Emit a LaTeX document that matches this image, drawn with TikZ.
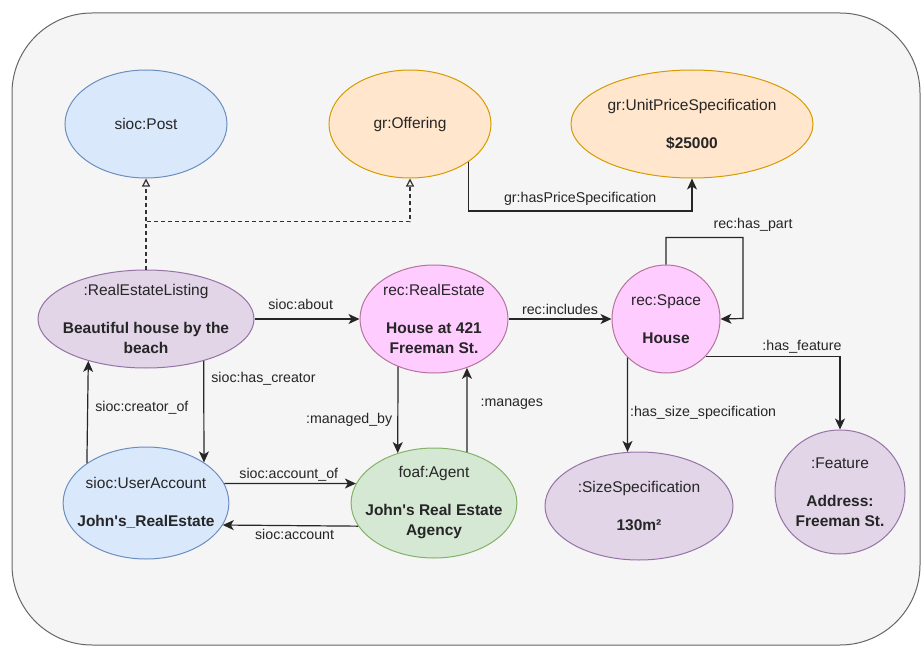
\documentclass[tikz,border=0pt]{standalone}
\usepackage{fontspec}
\setmainfont{Liberation Sans}
\usetikzlibrary{shapes.geometric,arrows.meta}

\definecolor{bgfill}{HTML}{F5F5F5}
\definecolor{bgline}{HTML}{666666}
\definecolor{bluefill}{HTML}{DAE8FC}
\definecolor{blueline}{HTML}{6C8EBF}
\definecolor{orangefill}{HTML}{FFE6CC}
\definecolor{orangeline}{HTML}{D79B00}
\definecolor{purplefill}{HTML}{E1D5E7}
\definecolor{purpleline}{HTML}{9673A6}
\definecolor{greenfill}{HTML}{D5E8D4}
\definecolor{greenline}{HTML}{82B366}
\definecolor{pinkfill}{HTML}{FFCCFF}
\definecolor{pinkline}{HTML}{B5739D}

\begin{document}
\begin{tikzpicture}
  [x=0.5pt,y=-0.5pt,
   res/.style={ellipse,draw,line width=0.5pt,inner sep=-5pt,align=center,text=black!85,font=\fontsize{7.75}{10}\selectfont},
   bluenode/.style={res,fill=bluefill,draw=blueline},
   orangenode/.style={res,fill=orangefill,draw=orangeline},
   purplenode/.style={res,fill=purplefill,draw=purpleline},
   greennode/.style={res,fill=greenfill,draw=greenline},
   pinknode/.style={res,fill=pinkfill,draw=pinkline},
   rel/.style={font=\fontsize{7.1}{8.5}\selectfont,text=black!85,inner sep=1pt},
   link/.style={draw=black!85,line width=0.6pt,-{Stealth[length=5.5pt,width=5pt,inset=1.5pt]}},
   inh/.style={draw=black!80,line width=0.6pt,dash pattern=on 2pt off 1.5pt,-{Triangle[open,length=4pt,width=4pt]}}]

  \useasboundingbox (0,0) rectangle (921,647);
  \draw[bgline,fill=bgfill,line width=0.5pt,rounded corners=40pt] (12,13) rectangle (920,645);

  \node[bluenode,minimum width=81pt,minimum height=54pt] (post) at (146,124) {sioc:Post};
  \node[orangenode,minimum width=81pt,minimum height=54pt] (offer) at (410,124) {gr:Offering};
  \node[orangenode,minimum width=121pt,minimum height=54pt] (price) at (692,124) {gr:UnitPriceSpecification\\[9pt]\textbf{\$25000}};
  \node[purplenode,minimum width=108pt,minimum height=49pt] (listing) at (146,319) {:RealEstateListing\\[9pt]\textbf{Beautiful house by the}\\\textbf{beach}};
  \node[pinknode,minimum width=74pt,minimum height=54pt] (estate) at (434,319) {rec:RealEstate\\[9pt]\textbf{House at 421}\\\textbf{Freeman St.}};
  \node[pinknode,minimum width=54pt,minimum height=54pt] (space) at (666,319) {rec:Space\\[9pt]\textbf{House}};
  \node[bluenode,minimum width=81pt,minimum height=56pt] (account) at (146,503) {sioc:UserAccount\\[9pt]\textbf{John\textquotesingle s\_RealEstate}};
  \node[greennode,minimum width=81pt,minimum height=55pt] (agent) at (434,503) {foaf:Agent\\[9pt]\textbf{John\textquotesingle s Real Estate}\\\textbf{Agency}};
  \node[purplenode,minimum width=94pt,minimum height=54pt] (size) at (639,506) {:SizeSpecification\\[9pt]\textbf{130m²}};
  \node[purplenode,minimum width=65pt,minimum height=62pt] (feature) at (840,492) {:Feature\\[9pt]\textbf{Address:}\\\textbf{Freeman St.}};

  % subclass links
  \draw[inh] (listing) -- (post);
  \draw[inh] (listing.north) -- ++(0,-48) -| (offer.south);

  \draw[link] (offer.-33) -- ++(0,49) -| (price.south) node[rel,pos=0.25,above=1.5pt] {gr:hasPriceSpecification};
  \draw[link] (listing.east) -- (estate.west) node[rel,pos=0.44,above=3.5pt] {sioc:about};
  \draw[link] (estate.east) -- (space.west) node[rel,midway,above=1pt] {rec:includes};
  \draw[link] (listing.-36) -- (account.35) node[rel,pos=0.18,right=2.5pt] {sioc:has\_creator};
  \draw[link] (account.146) -- (listing.216) node[rel,pos=0.54,right=2.5pt] {sioc:creator\_of};
  \draw[link] (estate.233) -- (agent.126) node[rel,pos=0.62,left=1.5pt] {:managed\_by};
  \draw[link] (agent.57) -- (estate.304) node[rel,pos=0.57,right=5.5pt] {:manages};
  \draw[link] (account.14) -- (agent.166) node[rel,pos=0.49,above=0pt] {sioc:account\_of};
  \draw[link] (agent.197) -- (account.344) node[rel,pos=0.47,below=0.5pt] {sioc:account};
  \draw[link] (space.north) |- ++(77,-27) node[rel,pos=1,above=1.7pt,xshift=5pt] {rec:has\_part} -- ++(0,81) -- (space.east);
  \draw[link] (space.317) -| (feature.north) node[rel,pos=0.5,above left,xshift=2pt] {:has\_feature};
  \draw[link] (space.225) -- (size.102) node[rel,pos=0.585,right=0pt] {:has\_size\_specification};

\end{tikzpicture}
\end{document}
